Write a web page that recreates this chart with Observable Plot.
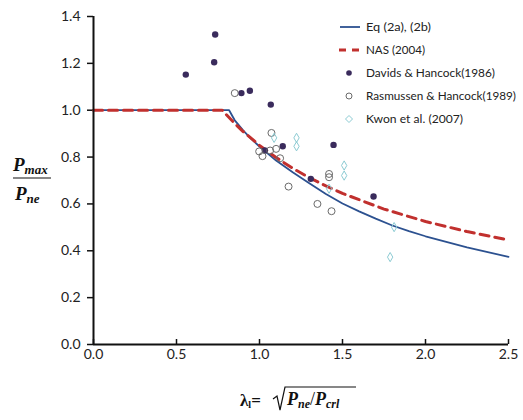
<!DOCTYPE html>
<html>
<head>
<meta charset="utf-8">
<script src="https://cdn.jsdelivr.net/npm/d3@7"></script>
<script src="https://cdn.jsdelivr.net/npm/@observablehq/plot@0.6"></script>
<style>
  body { margin: 0; background: #fff; }
  #wrap { position: relative; width: 523px; height: 420px; }
  #overlay { position: absolute; left: 0; top: 0; pointer-events: none; }
</style>
</head>
<body>
<div id="wrap"></div>
<script>
// ---- data ----
const xTicks = [0, 0.5, 1.0, 1.5, 2.0, 2.5];
const yTicks = [0, 0.2, 0.4, 0.6, 0.8, 1.0, 1.2, 1.4];

// Eq (2a), (2b) curve (read)
const eqX = [0, 0.817, 0.85, 0.9, 0.95, 1.0, 1.1, 1.2, 1.3, 1.4, 1.5, 1.6, 1.7, 1.8, 1.9, 2.0, 2.25, 2.5];
const eqY = [1.0, 1.0, 0.958, 0.915, 0.878, 0.845, 0.785, 0.735, 0.688, 0.642, 0.602, 0.568, 0.537, 0.508, 0.484, 0.462, 0.415, 0.374];

// NAS (2004) curve (read)
const nasX = [0, 0.776, 0.8, 0.85, 0.9, 1.0, 1.1, 1.2, 1.3, 1.4, 1.5, 1.75, 2.0, 2.25, 2.5];
const nasY = [1.0, 1.0, 0.981, 0.944, 0.910, 0.850, 0.798, 0.752, 0.712, 0.677, 0.645, 0.578, 0.525, 0.482, 0.446];

// Davids & Hancock (1986)
const dhX = [0.556, 0.727, 0.733, 0.891, 0.942, 1.068, 1.032, 1.140, 1.446, 1.309, 1.687];
const dhY = [1.152, 1.205, 1.323, 1.073, 1.083, 1.024, 0.828, 0.846, 0.852, 0.707, 0.632];

// Rasmussen & Hancock (1989)
const rhX = [0.851, 1.072, 1.100, 1.064, 0.998, 1.018, 1.124, 1.175, 1.419, 1.419, 1.349, 1.434];
const rhY = [1.073, 0.903, 0.835, 0.828, 0.824, 0.804, 0.795, 0.674, 0.728, 0.714, 0.600, 0.569];

// Kwon et al. (2007)
const kwX = [1.088, 1.223, 1.223, 1.510, 1.510, 1.419, 1.811, 1.787];
const kwY = [0.882, 0.882, 0.846, 0.764, 0.721, 0.665, 0.501, 0.373];

const seriesNames = ["Eq (2a), (2b)", "NAS (2004)", "Davids & Hancock(1986)", "Rasmussen & Hancock(1989)", "Kwon et al. (2007)"];

// ---- build tables ----
const zip = (xs, ys) => xs.map((x, i) => ({x, y: ys[i]}));
const eq = zip(eqX, eqY), nas = zip(nasX, nasY);
const dh = zip(dhX, dhY), rh = zip(rhX, rhY), kw = zip(kwX, kwY);

const colEq = "#2c5190", colNas = "#c1302e", colDh = "#3a2b5c", colRh = "#6a6a6a", colKw = "#8ccbd3";
const font = "Lato, 'Open Sans', sans-serif";

const chart = Plot.plot({
  width: 523, height: 420,
  marginLeft: 93, marginRight: 15, marginTop: 16, marginBottom: 76,
  style: {fontFamily: font, fontSize: "14px", color: "#222", background: "#fff"},
  x: {domain: [xTicks[0], xTicks[xTicks.length - 1]]},
  y: {domain: [yTicks[0], yTicks[yTicks.length - 1]]},
  marks: [
    Plot.axisY({ticks: yTicks, tickFormat: d3.format(".1f"), tickSize: 6, tickPadding: 7, label: null, stroke: "#111", strokeWidth: 1.5}),
    Plot.axisX({ticks: xTicks, tickFormat: () => "", tickSize: -5, label: null, stroke: "#111", strokeWidth: 1.5}),
    Plot.axisX({ticks: xTicks, tickFormat: d3.format(".1f"), tickSize: 0, tickPadding: 5, label: null}),
    Plot.line(eq, {x: "x", y: "y", stroke: colEq, strokeWidth: 1.8, curve: "linear"}),
    Plot.line(nas, {x: "x", y: "y", stroke: colNas, strokeWidth: 3, strokeDasharray: "9,6", curve: "linear"}),
    Plot.dot(dh, {x: "x", y: "y", r: 3.2, fill: colDh, stroke: "none"}),
    Plot.dot(rh, {x: "x", y: "y", r: 3.5, fill: "none", stroke: colRh, strokeWidth: 1}),
    Plot.dot(kw, {x: "x", y: "y", r: 2.8, symbol: "diamond", fill: "none", stroke: colKw, strokeWidth: 1}),
    Plot.ruleX([xTicks[0]], {stroke: "#111", strokeWidth: 2}),
    Plot.ruleY([yTicks[0]], {stroke: "#111", strokeWidth: 2})
  ]
});
document.getElementById("wrap").appendChild(chart);

// ---- legend and axis titles overlay ----
const ov = d3.select("#wrap").append("svg").attr("id", "overlay")
  .attr("width", 523).attr("height", 420);

const lg = ov.append("g").attr("font-family", font).attr("font-size", 12).attr("fill", "#222");
const rowY = [27, 50, 73, 96, 119];
const textW = [65, 59, 129, 150, 97];
seriesNames.forEach((name, i) => {
  const y = rowY[i];
  if (i === 0) lg.append("line").attr("x1", 340).attr("x2", 360).attr("y1", y).attr("y2", y).attr("stroke", colEq).attr("stroke-width", 1.8);
  if (i === 1) lg.append("line").attr("x1", 339).attr("x2", 361).attr("y1", y).attr("y2", y).attr("stroke", colNas).attr("stroke-width", 3).attr("stroke-dasharray", "7,6");
  if (i === 2) lg.append("circle").attr("cx", 349).attr("cy", y).attr("r", 2.8).attr("fill", colDh);
  if (i === 3) lg.append("circle").attr("cx", 349).attr("cy", y).attr("r", 3).attr("fill", "none").attr("stroke", colRh);
  if (i === 4) lg.append("path").attr("d", `M349,${y-3.5}L352.5,${y}L349,${y+3.5}L345.5,${y}Z`).attr("fill", "none").attr("stroke", colKw);
  lg.append("text").attr("x", 366).attr("y", y).attr("dy", "0.35em")
    .attr("textLength", textW[i]).attr("lengthAdjust", "spacingAndGlyphs").text(name);
});

// y-axis title: P_max / P_ne
const serif = "'Liberation Serif', 'DejaVu Serif', serif";
const yt = ov.append("g").attr("font-family", serif).attr("font-weight", "bold").attr("font-style", "italic").attr("fill", "#111");
const num = yt.append("text").attr("x", 13).attr("y", 171).attr("font-size", 19);
num.append("tspan").text("P");
num.append("tspan").attr("font-size", 13).attr("dy", 3).text("max");
yt.append("line").attr("x1", 13).attr("x2", 51).attr("y1", 178).attr("y2", 178).attr("stroke", "#111").attr("stroke-width", 1.2);
const den = yt.append("text").attr("x", 15).attr("y", 200).attr("font-size", 19);
den.append("tspan").text("P");
den.append("tspan").attr("font-size", 13).attr("dy", 3).text("ne");

// x-axis title: λl = sqrt(P_ne / P_crl)
const xt = ov.append("g").attr("font-family", serif).attr("font-weight", "bold").attr("fill", "#111");
const lam = xt.append("text").attr("x", 240).attr("y", 406).attr("font-size", 17);
lam.append("tspan").text("λ");
lam.append("tspan").attr("font-size", 10).attr("dy", 2).text("l");
lam.append("tspan").attr("dy", -2).text("= ");
xt.append("path").attr("d", "M273,399 L277,396 L280,410 L285,387 L356,387")
  .attr("fill", "none").attr("stroke", "#111").attr("stroke-width", 1.2);
const rad = xt.append("text").attr("x", 287).attr("y", 405).attr("font-size", 18).attr("font-style", "italic");
rad.append("tspan").text("P");
rad.append("tspan").attr("font-size", 12).attr("dy", 3).text("ne");
rad.append("tspan").attr("dy", -3).attr("font-style", "normal").attr("font-weight", "normal").text("/");
rad.append("tspan").text("P");
rad.append("tspan").attr("font-size", 12).attr("dy", 3).text("crl");
</script>
</body>
</html>
